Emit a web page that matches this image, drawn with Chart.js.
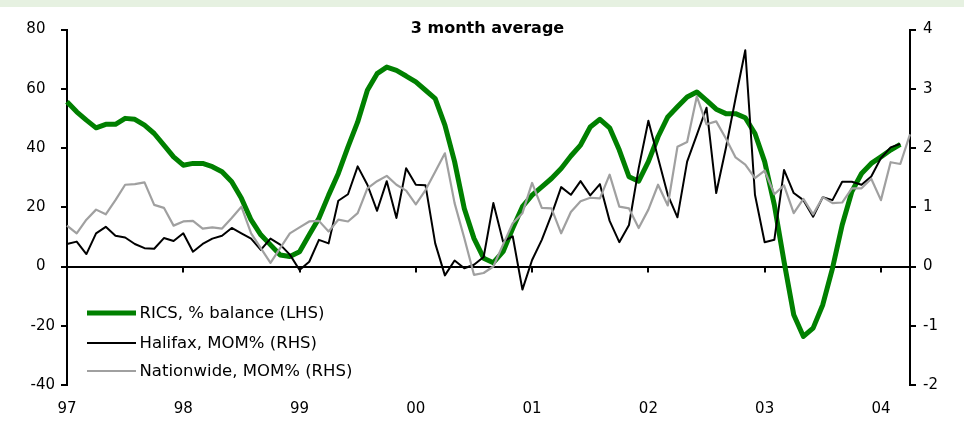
<!DOCTYPE html>
<html>
<head>
<meta charset="utf-8">
<script src="https://cdn.jsdelivr.net/npm/chart.js@4/dist/chart.umd.min.js"></script>
<style>
html,body{margin:0;padding:0;background:#fff;}
#wrap{position:relative;width:964px;height:428px;}
canvas{display:block;}
</style>
</head>
<body>
<div id="wrap"><canvas id="c" width="964" height="428"></canvas></div>
<script>
// Categories: months Jan 1997 .. Apr 2004
const months = [];
for (let y = 1997; y <= 2004; y++) {
  for (let m = 1; m <= 12; m++) {
    if (y === 2004 && m > 4) break;
    months.push(y + '-' + String(m).padStart(2, '0'));
  }
}

const titleText = '3 month average';
const seriesNames = ['RICS, % balance (LHS)', 'Halifax, MOM% (RHS)', 'Nationwide, MOM% (RHS)'];

// RICS, % balance (LHS)
const rics = [
  55.6, 52.2, 49.4, 46.8, 48.0, 48.0, 50.0, 49.7, 47.7, 44.9, 41.0, 37.0,
  34.2, 34.8, 34.8, 33.7, 32.0, 28.6, 23.0, 15.7, 10.7, 7.3, 3.9, 3.4,
  5.0, 10.7, 16.3, 24.1, 31.4, 40.4, 48.8, 59.5, 65.1, 67.3, 66.2, 64.3,
  62.3, 59.5, 56.7, 47.7, 35.4, 19.6, 9.5, 2.8, 1.3, 5.0, 12.9, 20.2,
  24.1, 26.9, 29.7, 33.1, 37.3, 41.0, 47.1, 49.7, 46.8, 39.3, 30.3, 28.8,
  35.4, 43.8, 50.5, 53.9, 57.2, 58.9, 56.1, 53.1, 51.6, 51.6, 50.2, 44.9,
  35.4, 20.8, 1.7, -16.3, -23.6, -20.8, -12.9, -0.6, 14.0, 25.3, 31.4, 34.8,
  37.0, 39.3, 41.2, null
];

// Halifax, MOM% (RHS)
const halifax = [
  0.38, 0.42, 0.21, 0.56, 0.67, 0.52, 0.49, 0.38, 0.31, 0.30, 0.48, 0.43,
  0.56, 0.25, 0.38, 0.47, 0.52, 0.65, 0.56, 0.47, 0.28, 0.47, 0.37, 0.20,
  -0.06, 0.08, 0.45, 0.39, 1.11, 1.22, 1.69, 1.38, 0.94, 1.44, 0.82, 1.66,
  1.38, 1.37, 0.39, -0.15, 0.10, -0.03, 0.03, 0.16, 1.07, 0.42, 0.51, -0.39,
  0.11, 0.45, 0.87, 1.34, 1.21, 1.44, 1.20, 1.39, 0.77, 0.41, 0.70, 1.66,
  2.46, 1.83, 1.21, 0.83, 1.77, 2.22, 2.68, 1.24, 2.00, 2.84, 3.65, 1.21,
  0.41, 0.45, 1.63, 1.24, 1.12, 0.84, 1.17, 1.12, 1.43, 1.43, 1.38, 1.52,
  1.83, 2.01, 2.07, null
];

// Nationwide, MOM% (RHS)
const nationwide = [
  0.69, 0.56, 0.79, 0.96, 0.88, 1.12, 1.38, 1.39, 1.42, 1.04, 0.99, 0.69,
  0.76, 0.77, 0.64, 0.66, 0.64, 0.82, 1.01, 0.56, 0.31, 0.06, 0.31, 0.56,
  0.66, 0.76, 0.77, 0.59, 0.79, 0.76, 0.90, 1.32, 1.44, 1.53, 1.38, 1.28,
  1.05, 1.29, 1.60, 1.91, 1.07, 0.48, -0.14, -0.11, 0.00, 0.37, 0.73, 0.90,
  1.41, 0.99, 0.98, 0.56, 0.92, 1.10, 1.16, 1.15, 1.55, 1.01, 0.98, 0.65,
  0.96, 1.38, 1.03, 2.02, 2.10, 2.87, 2.40, 2.45, 2.16, 1.84, 1.72, 1.49,
  1.62, 1.22, 1.37, 0.90, 1.14, 0.88, 1.17, 1.07, 1.08, 1.32, 1.32, 1.48,
  1.12, 1.76, 1.73, 2.23
];

const lhsTicks = { min: -40, max: 80, step: 20 };
const rhsTicks = { min: -2, max: 4, step: 1 };

const colors = { rics: '#008000', halifax: '#000000', nationwide: '#a0a0a0' };
const FONT = '"DejaVu Sans", Verdana, sans-serif';

const decorPlugin = {
  id: 'decor',
  beforeDraw(chart) {
    const ctx = chart.ctx;
    ctx.save();
    ctx.fillStyle = '#ffffff';
    ctx.fillRect(0, 0, chart.width, chart.height);
    ctx.fillStyle = '#e6f1e1';
    ctx.fillRect(0, 0, chart.width, 7);
    ctx.restore();
  },
  beforeDatasetsDraw(chart) {
    const ctx = chart.ctx;
    const xs = chart.scales.x, ys = chart.scales.y;
    const y0 = ys.getPixelForValue(0);
    ctx.save();
    ctx.strokeStyle = '#000';
    ctx.lineWidth = 2;
    months.forEach((m, i) => {
      if (m.endsWith('-01')) {
        const x = Math.round(xs.getPixelForValue(i));
        ctx.beginPath();
        ctx.moveTo(x, y0);
        ctx.lineTo(x, y0 + 6);
        ctx.stroke();
      }
    });
    ctx.restore();
  },
  afterDraw(chart) {
    const ctx = chart.ctx;
    ctx.save();
    // title
    ctx.fillStyle = '#000';
    ctx.font = 'bold 16px ' + FONT;
    ctx.textAlign = 'center';
    ctx.textBaseline = 'middle';
    ctx.fillText(titleText, 487.5, 29);
    // legend
    const rows = [
      { name: seriesNames[0], color: colors.rics, w: 5, y: 313 },
      { name: seriesNames[1], color: colors.halifax, w: 2, y: 343 },
      { name: seriesNames[2], color: colors.nationwide, w: 2, y: 371 }
    ];
    ctx.font = '16.5px ' + FONT;
    ctx.textAlign = 'left';
    rows.forEach(r => {
      ctx.strokeStyle = r.color;
      ctx.lineWidth = r.w;
      ctx.lineCap = 'butt';
      ctx.beginPath();
      ctx.moveTo(87, r.y);
      ctx.lineTo(136, r.y);
      ctx.stroke();
      ctx.fillStyle = '#000';
      ctx.fillText(r.name, 139.5, r.y + 1);
    });
    ctx.restore();
  }
};

new Chart(document.getElementById('c'), {
  type: 'line',
  data: {
    labels: months,
    datasets: [
      { label: seriesNames[0], data: rics, yAxisID: 'y', borderColor: colors.rics, borderWidth: 5, order: 3 },
      { label: seriesNames[1], data: halifax, yAxisID: 'y1', borderColor: colors.halifax, borderWidth: 2, order: 2 },
      { label: seriesNames[2], data: nationwide, yAxisID: 'y1', borderColor: colors.nationwide, borderWidth: 2.2, order: 1 }
    ]
  },
  options: {
    responsive: false,
    animation: false,
    devicePixelRatio: 1,
    layout: { padding: { top: 29.5, left: 0, right: 0, bottom: 0 } },
    elements: {
      point: { radius: 0, hoverRadius: 0 },
      line: { tension: 0, fill: false, borderJoinStyle: 'round', borderCapStyle: 'butt' }
    },
    datasets: { line: { clip: false, spanGaps: false } },
    plugins: { legend: { display: false }, title: { display: false }, tooltip: { enabled: false } },
    scales: {
      x: {
        type: 'category',
        offset: false,
        grid: { display: false, drawTicks: false },
        border: { display: false },
        ticks: {
          autoSkip: false, maxRotation: 0, minRotation: 0, padding: 15,
          color: '#000', font: { family: FONT, size: 15 },
          callback: function (v, i) {
            const lab = months[i];
            return lab.endsWith('-01') ? lab.slice(2, 4) : '';
          }
        },
        afterFit(s) { s.height = 43; }
      },
      y: {
        position: 'left',
        min: lhsTicks.min, max: lhsTicks.max,
        border: { display: true, color: '#000', width: 2 },
        grid: {
          drawOnChartArea: true, drawTicks: true, tickLength: 6, lineWidth: 2,
          tickColor: '#000',
          color: c => (c.tick && c.tick.value === 0) ? '#000' : 'rgba(0,0,0,0)'
        },
        ticks: {
          stepSize: lhsTicks.step, padding: 6, color: '#000',
          font: { family: FONT, size: 15 },
          callback: v => v < 0 ? String(v) : v + '\u2007'
        },
        afterFit(s) { s.width = 67; }
      },
      y1: {
        position: 'right',
        min: rhsTicks.min, max: rhsTicks.max,
        border: { display: true, color: '#000', width: 2 },
        grid: { drawOnChartArea: false, drawTicks: true, tickLength: 6, lineWidth: 2, color: '#000' },
        ticks: {
          stepSize: rhsTicks.step, padding: 7, color: '#000',
          font: { family: FONT, size: 15 }
        },
        afterFit(s) { s.width = 54; }
      }
    }
  },
  plugins: [decorPlugin]
});
</script>
</body>
</html>
